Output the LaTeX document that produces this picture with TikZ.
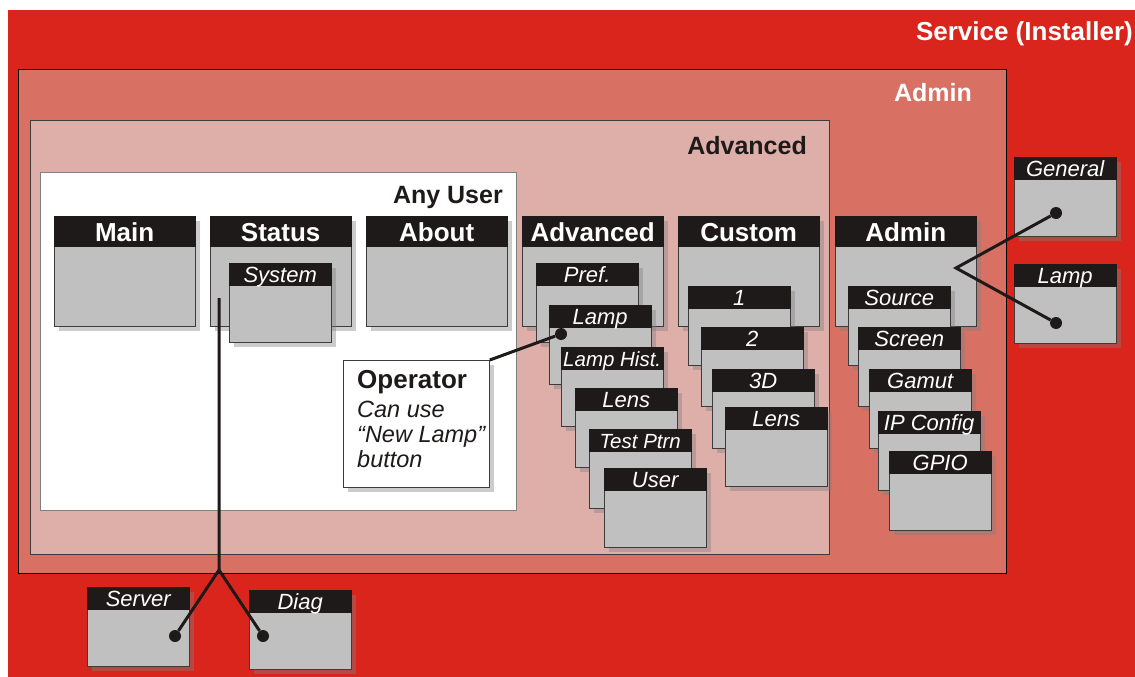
\documentclass[tikz,border=0pt]{standalone}
\usepackage{fontspec}
\setmainfont{Liberation Sans}
\usetikzlibrary{shadows}
\definecolor{svc}{HTML}{D9251C}
\definecolor{adm}{HTML}{D97064}
\definecolor{adv}{HTML}{DEAEA9}
\definecolor{wgrey}{HTML}{C0C0C0}
\definecolor{whead}{HTML}{1F1A1A}
\definecolor{edge}{HTML}{3C3C3C}
\newcommand\myfs[1]{\fontsize{#1}{#1}\selectfont}
\tikzset{
  area/.style={draw=#1, line width=0.8pt},
  areatitle/.style={font=\myfs{25}\bfseries, inner sep=0pt},
  shad/.style={drop shadow={opacity=0.4, shadow xshift=5pt, shadow yshift=-5pt}},
  bigbody/.style={anchor=north west, minimum width=141pt, minimum height=110pt, inner sep=0pt,
    fill=wgrey, draw=edge, line width=0.8pt, shad},
  bighead/.style={anchor=north west, minimum width=141pt, minimum height=30pt, inner sep=0pt,
    text height=24pt, text depth=4pt,
    fill=whead, draw=whead, text=white, font=\myfs{26}\bfseries},
  smallbody/.style={anchor=north west, minimum width=102pt, minimum height=79pt, inner sep=0pt,
    fill=wgrey, draw=edge, line width=0.8pt, shad},
  smallhead/.style={anchor=north west, minimum width=102pt, minimum height=22pt, inner sep=0pt,
    text height=18pt, text depth=2pt,
    fill=whead, draw=whead, text=white, font=\myfs{22}\itshape},
  narrow/.style={font=\myfs{20.5}\itshape},
  link/.style={draw=whead, line width=3pt},
  dot/.style={circle, fill=whead, minimum size=12pt, inner sep=0pt},
  opbox/.style={anchor=north west, draw=edge, fill=white, line width=0.8pt, minimum width=146pt, minimum height=127pt,
    inner sep=0pt, shad},
  optext/.style={anchor=base west, inner sep=0pt, text=whead, font=\myfs{23.5}\itshape}
}
\newcommand\bigwin[4]{\node[bigbody] (#1) at (#2,#3) {};\node[bighead] (#1h) at (#2,#3) {#4};}
\newcommand\smallwin[5][]{\node[smallbody] (#2) at (#3,#4) {};\node[smallhead,#1] (#2h) at (#3,#4) {#5};}
\begin{document}
\begin{tikzpicture}[x=1pt,y=-1pt]
\useasboundingbox (0,0) rectangle (1135,677);
% areas
\node[fill=svc, inner sep=0pt, minimum width=1127pt, minimum height=667pt, anchor=north west] (svc) at (8,10) {};
\node[fill=adm, area=black, inner sep=0pt, minimum width=988pt, minimum height=504pt, anchor=north west] (adm) at (18,69) {};
\node[fill=adv, area=edge, inner sep=0pt, minimum width=799pt, minimum height=434pt, anchor=north west] (adv) at (30,120) {};
\node[fill=white, area=gray, inner sep=0pt, minimum width=476pt, minimum height=338pt, anchor=north west] (any) at (40,172) {};
\node[areatitle, text=white, font=\myfs{26}\bfseries, anchor=base east] (tsvc) at (1133,41) {Service (Installer)};
\node[areatitle, text=white, anchor=base east] (tadm) at (972,101) {Admin};
\node[areatitle, text=whead, anchor=base east] (tadv) at (807,154) {Advanced};
\node[areatitle, text=whead, anchor=base east] (tany) at (503,203) {Any User};
% big windows
\bigwin{wmain}{54}{216}{Main}
\bigwin{wstatus}{210}{216}{Status}
\bigwin{wabout}{366}{216}{About}
\bigwin{wadv}{522}{216}{Advanced}
\bigwin{wcustom}{678}{216}{Custom}
\bigwin{wadmin}{835}{216}{Admin}
% status sub
\smallwin{wsystem}{229}{263}{System}
% advanced stack
\smallwin{wpref}{536}{263}{Pref.}
\smallwin{wlamp}{549}{305}{Lamp}
\smallwin[narrow]{wlamphist}{561}{347}{Lamp Hist.}
\smallwin{wlens}{575}{388}{Lens}
\smallwin[narrow]{wtest}{589}{429}{Test Ptrn}
\smallwin{wuser}{604}{468}{User}
% custom stack
\smallwin{wc1}{688}{286}{1}
\smallwin{wc2}{701}{327}{2}
\smallwin{wc3}{712}{369}{3D}
\smallwin{wclens}{725}{407}{Lens}
% admin stack
\smallwin{wsource}{848}{286}{Source}
\smallwin{wscreen}{858}{327}{Screen}
\smallwin{wgamut}{869}{369}{Gamut}
\smallwin{wip}{878}{411}{IP Config}
\smallwin{wgpio}{889}{451}{GPIO}
% service windows
\smallwin{wgeneral}{1014}{157}{General}
\smallwin{wlampr}{1014}{264}{Lamp}
\smallwin{wserver}{87}{587}{Server}
\smallwin{wdiag}{249}{590}{Diag}
% operator
\node[opbox] (op) at (343,360) {};
\node[optext, font=\myfs{26}\bfseries] (op1) at (357,388) {Operator};
\node[optext] (op2) at (357,417) {Can use};
\node[optext] (op3) at (357,442) {“New Lamp”};
\node[optext] (op4) at (357,467) {button};
% dots and links
\node[dot] (dlamp) at (561,334) {};
\node[dot] (dgen) at (1056,213) {};
\node[dot] (dlampr) at (1056,323) {};
\node[dot] (dserver) at (175,636) {};
\node[dot] (ddiag) at (263,636) {};
\coordinate (ja) at (956,268);
\coordinate (stop) at (219,298);
\coordinate (js) at (219,570);
\draw[link] (op.north east) -- (dlamp);
\draw[link] (dgen) -- (ja) -- (dlampr);
\draw[link] (stop) -- (js) -- (dserver);
\draw[link] (js) -- (ddiag);
\end{tikzpicture}
\end{document}
